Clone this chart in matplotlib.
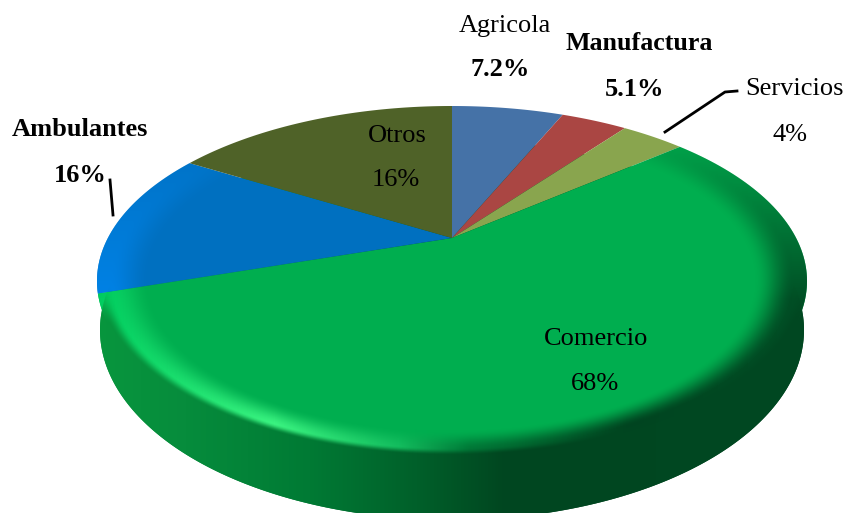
import numpy as np
import matplotlib
matplotlib.use('Agg')
import matplotlib.pyplot as plt
from matplotlib.patches import Polygon

# shares of the drawn pie (read from the slice edges), clockwise from the top
categories = ['Agricola', 'Manufactura', 'Servicios', 'Comercio', 'Ambulantes', 'Otros']
shares = [5.05, 3.05, 3.0, 62.8, 12.9, 13.25]
pct_labels = ['7.2%', '5.1%', '4%', '68%', '16%', '16%']
colors = ['#4572A7', '#AA4643', '#89A54E', '#00AE4F', '#0070C0', '#4F6228']

W, H = 845, 513
CX, CY, RX, RY = 452, 281, 355, 175   # top rim
APEX_Y = 238                          # perspective moves the apex up
LOW_CY, LOW_RX, LOW_RY = 330, 352, 190  # bottom rim

plt.rcParams['font.family'] = ['Liberation Serif', 'DejaVu Serif']

fig = plt.figure(figsize=(W / 100, H / 100), dpi=100)
ax = fig.add_axes([0, 0, 1, 1])
ax.set_axis_off()

xx, yy = np.meshgrid(np.arange(W) + 0.5, np.arange(H) + 0.5)
u = (xx - CX) / RX
v = (yy - CY) / RY
r = np.sqrt(u ** 2 + v ** 2)


def smooth(a, b, x):
    t = np.clip((x - a) / (b - a), 0, 1)
    return t * t * (3 - 2 * t)


def overlay(rgb, alpha, clip, z):
    img = np.dstack([rgb[0] / 255, rgb[1] / 255, rgb[2] / 255, alpha])
    im = ax.imshow(img, extent=(0, W, H, 0), aspect='auto', zorder=z, interpolation='bilinear')
    im.set_clip_path(clip)


# side wall, only the big slice reaches it
t = np.radians(np.linspace(0, 360, 361))
low = np.column_stack([CX + LOW_RX * np.sin(t), LOW_CY - LOW_RY * np.cos(t)])
wall = Polygon(low, closed=True, fc='none', ec='none', transform=ax.transData)
ax.add_patch(wall)
knots = [-1, -0.75, -0.4, -0.1, 0.15, 1]
wall_rgb = [np.interp(u, knots, c) for c in ([8, 6, 0, 0, 0, 0],
                                             [150, 140, 122, 96, 70, 72],
                                             [62, 60, 52, 42, 32, 34])]
overlay(wall_rgb, np.ones_like(u), wall, 1)

# top of the slices
edges = np.cumsum([0] + shares) / sum(shares) * 2 * np.pi
clips = {}
for i, name in enumerate(categories):
    a = np.linspace(edges[i], edges[i + 1], 200)
    pts = np.column_stack([CX + RX * np.sin(a), CY - RY * np.cos(a)])
    pts = np.vstack([[CX, APEX_Y], pts])
    p = Polygon(pts, closed=True, fc=colors[i], ec='none', lw=0, zorder=2)
    ax.add_patch(p)
    clips[name] = p

# rounded rim: bright on the front left, dark on the right
band = smooth(0.85, 0.965, r) * np.clip(v + 0.9, 0, 1)
knots = [-1, -0.5, -0.15, 0.05, 0.5, 1]
rim_rgb = [np.interp(u, knots, c) for c in ([0, 60, 20, 0, 0, 0],
                                            [205, 245, 190, 120, 68, 80],
                                            [95, 130, 95, 55, 32, 38])]
overlay(rim_rgb, band, clips['Comercio'], 3)
overlay([np.full_like(u, 0), np.full_like(u, 130), np.full_like(u, 230)],
        band, clips['Ambulantes'], 3)
# soft step from the rim into the wall, drawn over the whole rim so no seam shows
overlay(wall_rgb, smooth(0.955, 0.995, r) * smooth(0.0, 0.25, v), wall, 4)

ax.set_xlim(0, W)
ax.set_ylim(H, 0)

# leader lines
ax.plot([665, 725, 737], [132, 92, 91], color='black', lw=2, zorder=5)
ax.plot([110, 113], [180, 215], color='black', lw=2, zorder=5)

# labels
name_pos = [(505, 26), (639, 43), (795, 89), (596, 339), (80, 129), (397, 136)]
pct_pos = [(500, 70), (635, 89), (790, 135), (595, 384), (80, 175), (396, 180)]
heavy = ['Manufactura', 'Ambulantes']
heavy_pct = ['Agricola', 'Manufactura', 'Ambulantes']
for i, name in enumerate(categories):
    ax.text(*name_pos[i], name, fontsize=18.6 if name == 'Manufactura' else 19,
            ha='center', va='center', zorder=6,
            fontweight='bold' if name in heavy else 'normal')
    ax.text(*pct_pos[i], pct_labels[i], fontsize=19, ha='center', va='center', zorder=6,
            fontweight='bold' if name in heavy_pct else 'normal')

fig.savefig('out.png', dpi=100)
